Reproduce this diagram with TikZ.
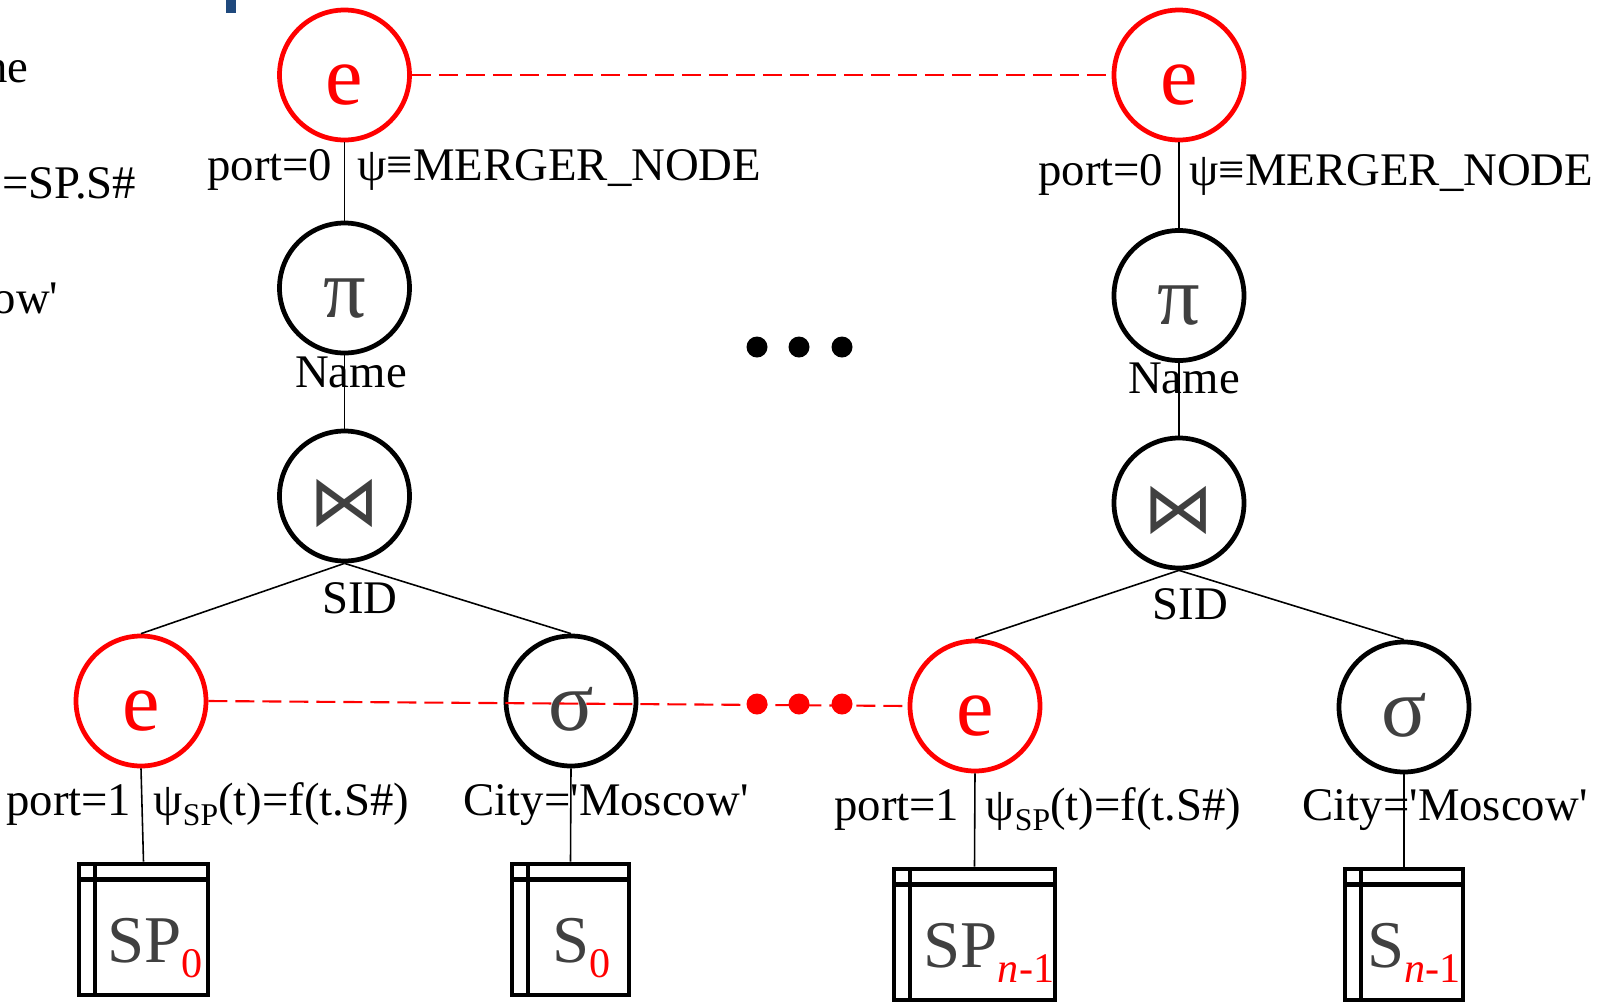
\documentclass[tikz,border=0pt]{standalone}
\usepackage{fontspec}
\setmainfont{Liberation Serif}[Ligatures=TeXOff]
\newfontfamily\opfont{DejaVu Sans}
\definecolor{red1}{HTML}{FF0000}
\definecolor{gray4}{HTML}{404040}
\definecolor{blue8}{HTML}{1F497D}
\newcommand{\lblsize}{\fontsize{13.3}{14}\selectfont}
\newcommand{\redsub}[1]{\raisebox{-0.155cm}{\fontsize{12}{12}\selectfont\color{red1}#1}}
\newcommand{\smallsub}[1]{\raisebox{-0.1cm}{\fontsize{9}{9}\selectfont #1}}

\tikzset{
  op/.style={circle, draw, line width=1.35pt, minimum size=1.30cm, inner sep=0pt,
    text height=0.58cm, text depth=0pt, text=gray4, font=\fontsize{24}{24}\selectfont},
  exch/.style={op, draw=red1, text=red1},
  rel/.style={rectangle, draw, line width=1.35pt, inner sep=0pt, minimum height=1.31cm,
    path picture={
      \draw[line width=1.35pt] ([yshift=-0.155cm]path picture bounding box.north west)
        -- ([yshift=-0.155cm]path picture bounding box.north east);
      \draw[line width=1.35pt] ([xshift=0.16cm]path picture bounding box.north west)
        -- ([xshift=0.16cm]path picture bounding box.south west);}},
  reltext/.style={inner sep=0pt, anchor=base west, text=gray4, font=\fontsize{19}{19}\selectfont},
  lbl/.style={inner sep=0pt, font=\lblsize},
  wire/.style={line width=0.45pt},
  mergeline/.style={red1, line width=0.6pt, dash pattern=on 0.19cm off 0.08cm}
}

\begin{document}
\begin{tikzpicture}
\useasboundingbox (0,0) rectangle (16.04,-10.01);
\clip (0,0) rectangle (16.04,-10.01);

% leftovers at the slide border
\fill[blue8] (2.26,0) rectangle (2.36,-0.13);
\node[lbl, anchor=base east] (cutname) at (0.29,-0.82) {ne};
\node[lbl, anchor=base east] (cutjoin) at (1.37,-1.98) {=SP.S\#};
\node[lbl, anchor=base east] (cutcity) at (0.59,-3.13) {ow'};

% first plan
\node[exch] (eTL) at (3.445,-0.75) {e};
\node[op] (piL) at (3.445,-2.88) {π};
\node[op, font=\opfont\fontsize{20}{20}\selectfont] (joinL) at (3.445,-4.96) {⋈};
\node[exch] (eBL) at (1.41,-7.01) {e};
\node[op] (sigL) at (5.71,-7.01) {σ};
\node[rel, minimum width=1.29cm] (sp0) at (1.435,-9.295) {};
\node[rel, minimum width=1.17cm] (s0) at (5.705,-9.295) {};
\node[reltext] (sp0lbl) at (1.07,-9.62) {SP\redsub{0}};
\node[reltext] (s0lbl) at (5.52,-9.62) {S\redsub{0}};

\draw[wire] (eTL.south) -- (piL.north);
\draw[wire] (piL.south) -- (joinL.north);
\draw[wire] (joinL.south) -- (eBL.north);
\draw[wire] (joinL.south) -- (sigL.north);
\draw[wire] (eBL.south) -- (sp0.north);
\draw[wire] (sigL.south) -- (s0.north);

\node[lbl, anchor=base east] (port0L) at (3.33,-1.80) {port=0};
\node[lbl, anchor=base west] (psi0L) at (3.57,-1.80) {ψ≡MERGER\_NODE};
\node[lbl, anchor=base] (nameL) at (3.51,-3.87) {Name};
\node[lbl, anchor=base] (sidL) at (3.60,-6.13) {SID};
\node[lbl, anchor=base east] (port1L) at (1.32,-8.15) {port=1};
\node[lbl, anchor=base west] (psi1L) at (1.53,-8.15) {ψ\smallsub{SP}(t)=f(t.S\#)};
\node[lbl, anchor=base west] (cityL) at (4.63,-8.15) {City='Moscow'};

% last plan
\node[exch] (eTR) at (11.79,-0.75) {e};
\node[op] (piR) at (11.79,-2.955) {π};
\node[op, font=\opfont\fontsize{20}{20}\selectfont] (joinR) at (11.79,-5.03) {⋈};
\node[exch] (eBR) at (9.75,-7.06) {e};
\node[op] (sigR) at (14.04,-7.07) {σ};
\node[rel, minimum width=1.61cm] (spn) at (9.745,-9.345) {};
\node[rel, minimum width=1.18cm] (sn) at (14.04,-9.345) {};
\node[reltext] (spnlbl) at (9.23,-9.67) {SP\redsub{\textit{n}-1}};
\node[reltext] (snlbl) at (13.67,-9.67) {S\redsub{\textit{n}-1}};

\draw[wire] (eTR.south) -- (piR.north);
\draw[wire] (piR.south) -- (joinR.north);
\draw[wire] (joinR.south) -- (eBR.north);
\draw[wire] (joinR.south) -- (sigR.north);
\draw[wire] (eBR.south) -- (spn.north);
\draw[wire] (sigR.south) -- (sn.north);

\node[lbl, anchor=base east] (port0R) at (11.64,-1.85) {port=0};
\node[lbl, anchor=base west] (psi0R) at (11.89,-1.85) {ψ≡MERGER\_NODE};
\node[lbl, anchor=base] (nameR) at (11.84,-3.93) {Name};
\node[lbl, anchor=base] (sidR) at (11.905,-6.19) {SID};
\node[lbl, anchor=base east] (port1R) at (9.60,-8.20) {port=1};
\node[lbl, anchor=base west] (psi1R) at (9.85,-8.20) {ψ\smallsub{SP}(t)=f(t.S\#)};
\node[lbl, anchor=base west] (cityR) at (13.02,-8.20) {City='Moscow'};

% exchange links and the plans in between
\draw[mergeline] (eTL.east) -- (eTR.west);
\draw[mergeline] (eBL.east) -- (eBR.west);
\foreach \x in {7.57,7.99,8.42} {
  \fill (\x,-3.47) circle (0.105);
  \fill[red1] (\x,-7.04) circle (0.105);
}
\end{tikzpicture}
\end{document}
